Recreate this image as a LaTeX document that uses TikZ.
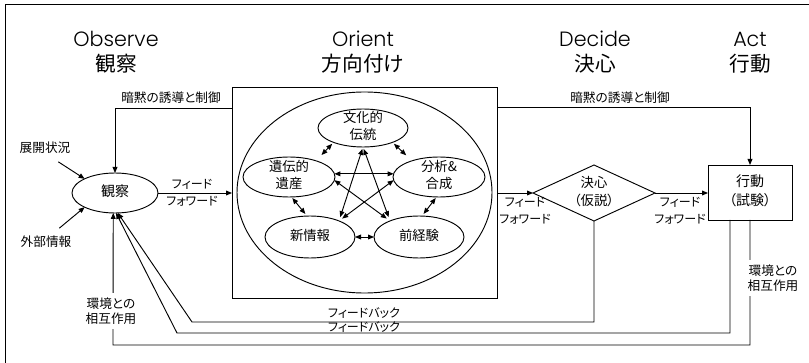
\documentclass[tikz,border=0pt]{standalone}
\usepackage{fontspec}
\newfontfamily\jp[RawFeature=+palt]{Noto Sans CJK JP}
\newfontfamily\lat{Poppins Light}
\usetikzlibrary{shapes.geometric,arrows.meta}
\newcommand{\zt}[1]{\makebox[0pt]{\parbox[c][0pt][c]{90pt}{\centering #1}}}
\begin{document}
\begin{tikzpicture}[x=0.75pt,y=-0.75pt,
  line width=0.7pt,
  every node/.style={inner sep=0pt, outer sep=0pt},
  arr/.style={-{Triangle[length=4.5pt,width=3.6pt]}},
  dbl/.style={{Triangle[length=4.5pt,width=3.6pt]}-{Triangle[length=4.5pt,width=3.6pt]}},
  ttl/.style={font=\lat\fontsize{15.5}{18}\selectfont},
  ttlj/.style={font=\jp\fontsize{15.5}{18}\selectfont},
  lbl/.style={font=\jp\fontsize{9.5}{12.75}\selectfont, align=center},
  lblk/.style={font=\jp\fontsize{9}{12.75}\selectfont, align=center},
  envl/.style={font=\jp\fontsize{9.5}{11.25}\selectfont, align=center, fill=white, inner sep=3.5pt},
  ell/.style={draw, ellipse, font=\jp\fontsize{10}{12.75}\selectfont},
  decbox/.style={draw, diamond, font=\jp\fontsize{10}{13.5}\selectfont},
  actbox/.style={draw, rectangle, font=\jp\fontsize{10.5}{14.5}\selectfont},
]
\useasboundingbox (0,0) rectangle (809,363);
\draw (5,363) -- (5,4) -- (809,4);

% titles
\node[ttl]  (tO)  at (116,39) {Observe};
\node[ttlj] (tOj) at (116,64) {観察};
\node[ttl]  (tR)  at (363,39) {Orient};
\node[ttlj] (tRj) at (363,64) {方向付け};
\node[ttl]  (tD)  at (595,39) {Decide};
\node[ttlj] (tDj) at (595,64) {決心};
\node[ttl]  (tA)  at (750,39) {Act};
\node[ttlj] (tAj) at (750,64) {行動};

% main nodes
\node[ell, font=\jp\fontsize{10.5}{12.75}\selectfont, minimum width=64.5pt, minimum height=30pt] (obs) at (115,193) {\zt{観察}};
\node[draw, rectangle, minimum width=198.75pt, minimum height=158.25pt] (orient) at (364.5,192.5) {};
\node[draw, ellipse, minimum width=191.25pt, minimum height=150.75pt] (oell) at (364.5,192.5) {};
\node[ell, minimum width=67.5pt, minimum height=28.5pt] (bunka) at (363,128) {\zt{文化的\\伝統}};
\node[ell, minimum width=69pt, minimum height=30pt] (iden) at (289,177) {\zt{遺伝的\\遺産}};
\node[ell, minimum width=69pt, minimum height=30pt] (bunseki) at (439,177) {\zt{分析\&\\合成}};
\node[ell, minimum width=67.5pt, minimum height=31.5pt] (shin) at (310,237) {\zt{新情報}};
\node[ell, minimum width=67.5pt, minimum height=31.5pt] (zenkei) at (419,237) {\zt{前経験}};
\node[decbox, minimum width=91.5pt, minimum height=42pt] (dec) at (594,193) {\zt{決心\\（仮説）}};
\node[actbox, minimum width=63pt, minimum height=41.25pt] (act) at (750,192.5) {\zt{行動\\（試験）}};

% orient internal links
\draw[dbl, shorten <=1.5pt, shorten >=6pt] (bunka.-154) -- (iden.31);
\draw[dbl, shorten <=1.5pt, shorten >=6pt] (bunka.-26) -- (bunseki.149);
\draw[dbl, shorten <=1pt, shorten >=2pt] (iden.-83) -- (shin.98);
\draw[dbl, shorten <=1pt, shorten >=2pt] (bunseki.-97) -- (zenkei.82);
\draw[dbl] (shin.east) -- (zenkei.west);
\draw[dbl, shorten <=1.5pt, shorten >=3pt] (bunka.south) -- (shin.29);
\draw[dbl, shorten <=1.5pt, shorten >=3pt] (bunka.south) -- (zenkei.151);
\draw[dbl] (iden.4) -- (bunseki.176);
\draw[dbl, shorten >=3pt] (iden.-4) -- (zenkei.151);
\draw[dbl, shorten >=3pt] (bunseki.184) -- (shin.29);

% feed forward
\draw[arr] (obs.east) -- (obs.east -| orient.west);
\node[lblk] (ff1) at (192,193) {フィード\\フォワード};
\draw[arr] (orient.east |- dec.west) -- (dec.west);
\node[lblk] (ff2) at (525,211) {フィード\\フォワード};
\draw[arr] (dec.east) -- (dec.east -| act.west);
\node[lblk] (ff3) at (680,211) {フィード\\フォワード};

% implicit guidance and control
\draw[arr] ([yshift=-15.75pt]orient.north west) -| (obs.north);
\draw[arr] ([yshift=-15pt]orient.north east) -| (act.north);
\node[lbl] (g1) at (171,98) {暗黙の誘導と制御};
\node[lbl] (g2) at (620,98) {暗黙の誘導と制御};

% inputs
\node[lbl] (in1) at (45,148) {展開状況};
\node[lbl] (in2) at (46,242) {外部情報};
\draw[arr] ([xshift=10pt,yshift=-6pt]in1.south) -- (obs.155);
\draw[arr] ([xshift=10pt,yshift=6pt]in2.north) -- (obs.205);

% feedback
\coordinate (fb1) at (192,322);
\coordinate (fb2) at (177,333);
\coordinate (fb3) at (113,345);
\draw[arr] (dec.south) |- (fb1) -- (obs.-82);
\draw[arr] ([xshift=-15pt]act.south) |- (fb2) -- (obs.-87);
\draw[arr] (act.south) |- (fb3) -- (obs.-95);
\node[lblk] (fbk1) at (364,313) {フィードバック};
\node[lblk] (fbk2) at (364,327) {フィードバック};
\node[envl] (env1) at (111,311) {環境との\\相互作用};
\node[envl] (env2) at (773,278) {環境との\\相互作用};
\end{tikzpicture}
\end{document}
